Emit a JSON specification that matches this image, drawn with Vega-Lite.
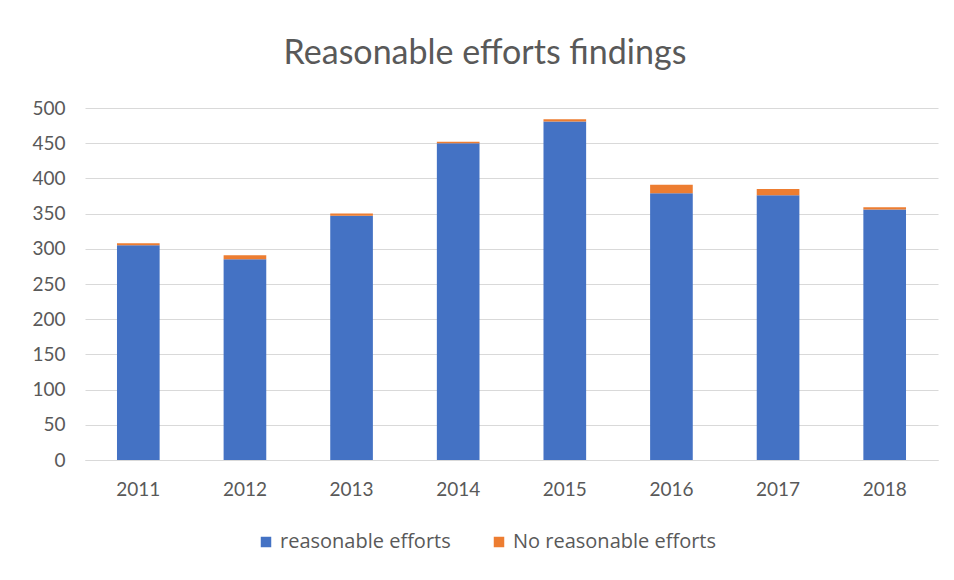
{
  "$schema": "https://vega.github.io/schema/vega-lite/v6.json",
  "width": 853,
  "height": 352,
  "autosize": {"type": "none"},
  "padding": {"left": 85, "top": 108, "right": 16, "bottom": 120},
  "background": "white",
  "title": {"text": "Reasonable efforts findings", "fontSize": 34, "font": "Lato", "fontWeight": "normal", "color": "#595959", "anchor": "middle", "frame": "bounds", "offset": 28},
  "data": {"values": [
    {"year": "2011", "type": "reasonable efforts", "ord": 1, "value": 305},
    {"year": "2011", "type": "No reasonable efforts", "ord": 2, "value": 3},
    {"year": "2012", "type": "reasonable efforts", "ord": 1, "value": 285},
    {"year": "2012", "type": "No reasonable efforts", "ord": 2, "value": 6},
    {"year": "2013", "type": "reasonable efforts", "ord": 1, "value": 347},
    {"year": "2013", "type": "No reasonable efforts", "ord": 2, "value": 3},
    {"year": "2014", "type": "reasonable efforts", "ord": 1, "value": 450},
    {"year": "2014", "type": "No reasonable efforts", "ord": 2, "value": 2},
    {"year": "2015", "type": "reasonable efforts", "ord": 1, "value": 481},
    {"year": "2015", "type": "No reasonable efforts", "ord": 2, "value": 3},
    {"year": "2016", "type": "reasonable efforts", "ord": 1, "value": 379},
    {"year": "2016", "type": "No reasonable efforts", "ord": 2, "value": 12},
    {"year": "2017", "type": "reasonable efforts", "ord": 1, "value": 376},
    {"year": "2017", "type": "No reasonable efforts", "ord": 2, "value": 9},
    {"year": "2018", "type": "reasonable efforts", "ord": 1, "value": 356},
    {"year": "2018", "type": "No reasonable efforts", "ord": 2, "value": 3}
  ]},
  "mark": {"type": "bar"},
  "encoding": {
    "x": {"field": "year", "type": "nominal", "scale": {"paddingInner": 0.6, "paddingOuter": 0.3},
      "axis": {"title": null, "labelAngle": 0, "ticks": false, "domainColor": "#d9d9d9", "labelFont": "Lato", "labelFontSize": 19, "labelColor": "#595959", "labelPadding": 20}},
    "y": {"field": "value", "type": "quantitative", "stack": "zero", "scale": {"domain": [0, 500], "nice": false},
      "axis": {"title": null, "values": [0,50,100,150,200,250,300,350,400,450,500], "ticks": false, "domain": false, "gridColor": "#d9d9d9", "labelFont": "Lato", "labelFontSize": 19, "labelColor": "#595959", "labelPadding": 20}},
    "color": {"field": "type", "type": "nominal",
      "scale": {"domain": ["reasonable efforts", "No reasonable efforts"], "range": ["#4472C4", "#ED7D31"]},
      "legend": {"title": null, "orient": "none", "legendX": 171, "legendY": 424, "direction": "horizontal", "symbolType": "square", "symbolSize": 110, "symbolStrokeWidth": 0, "labelFont": "Open Sans", "labelFontSize": 20, "labelColor": "#595959", "labelLimit": 400, "columnPadding": 38, "labelOffset": 4}},
    "order": {"field": "ord", "type": "quantitative"}
  },
  "config": {"view": {"stroke": null}}
}
